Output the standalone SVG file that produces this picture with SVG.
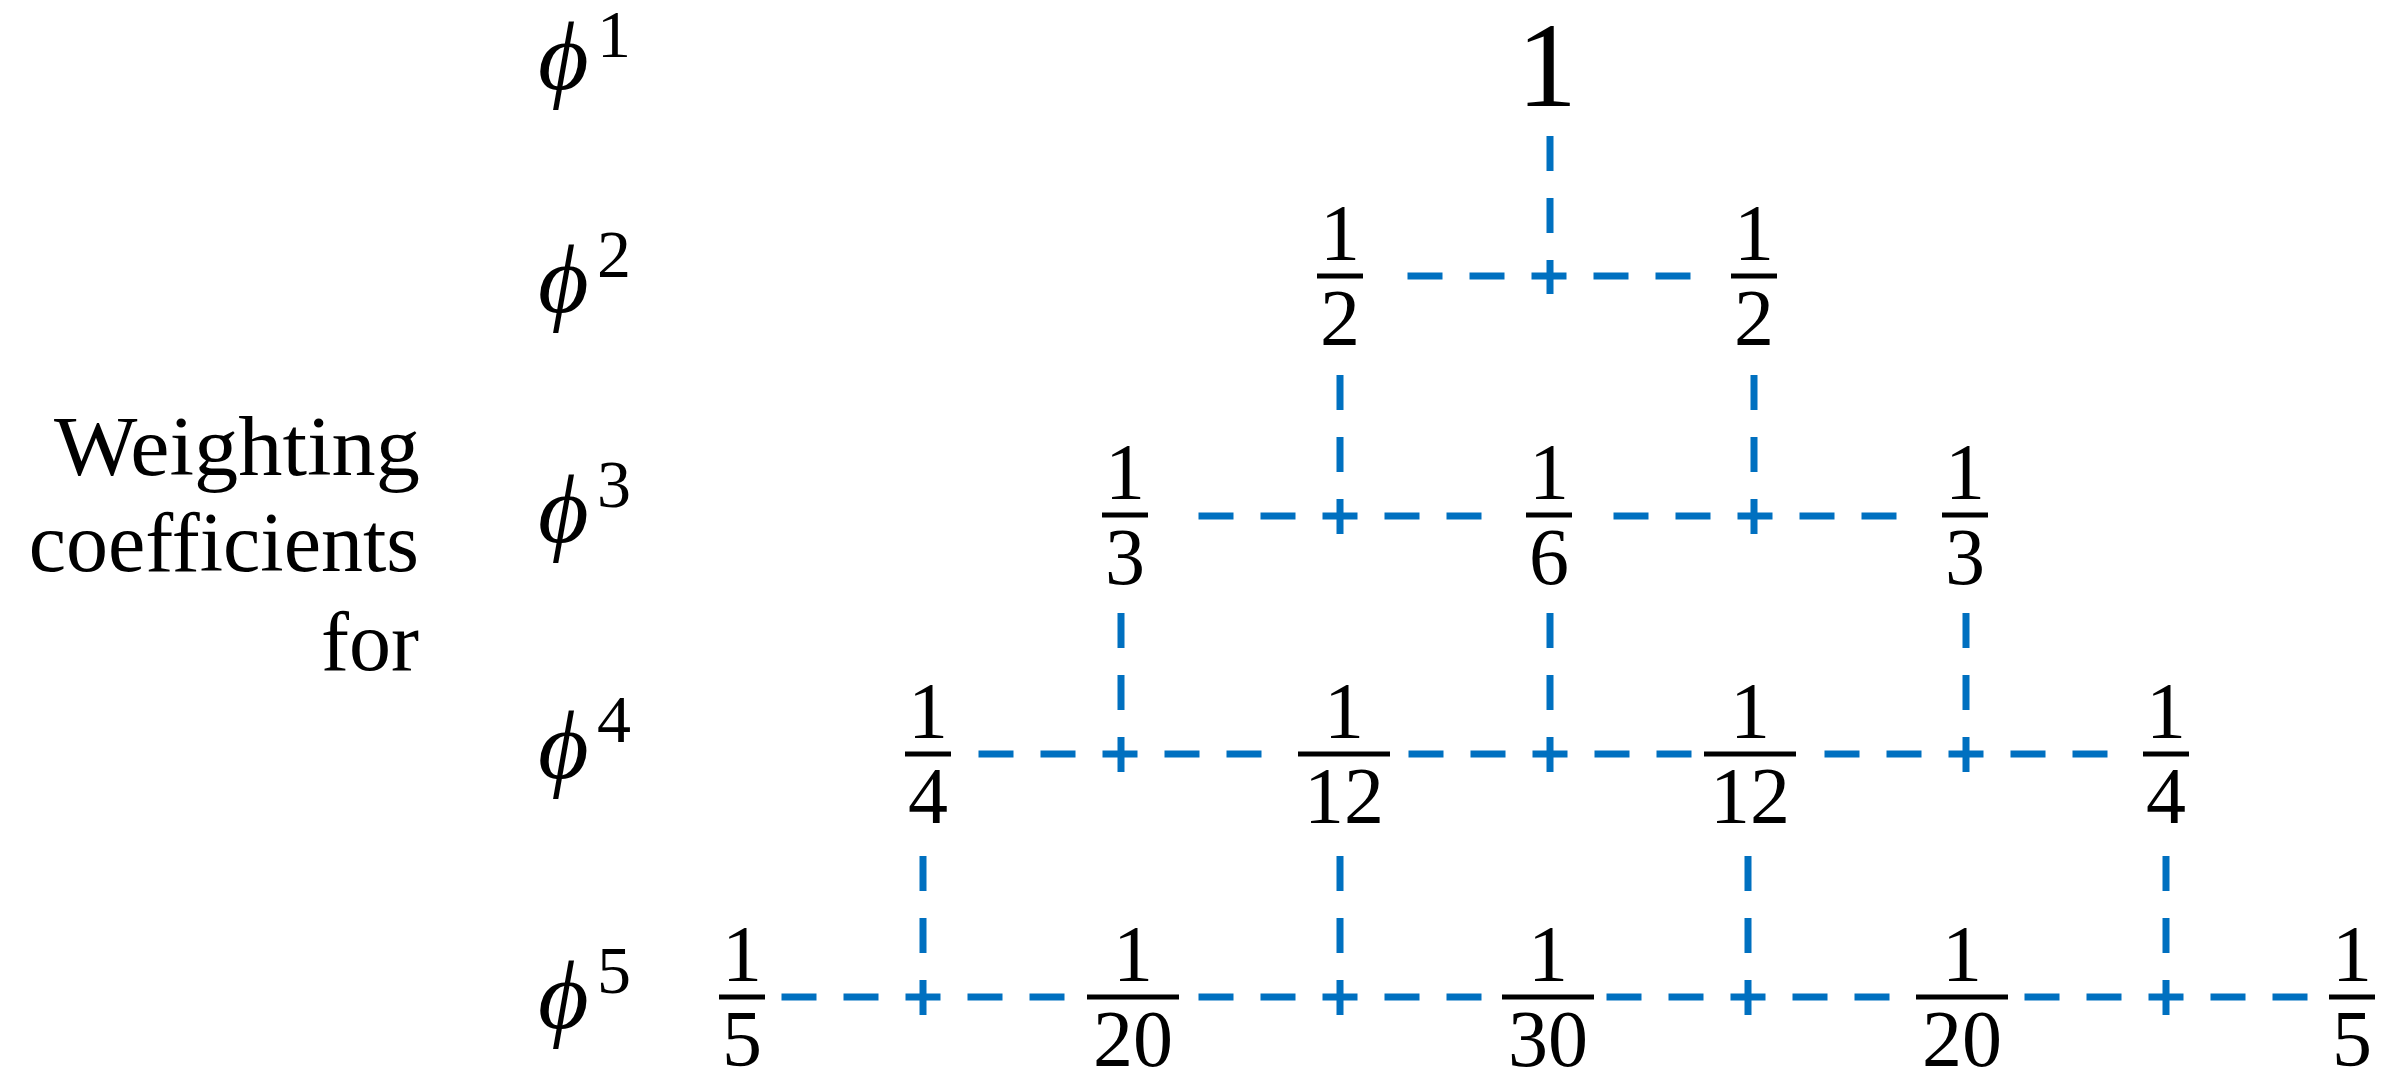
<svg xmlns="http://www.w3.org/2000/svg" width="2400" height="1085" viewBox="0 0 2400 1085">
<style>
.num{font-family:"Liberation Serif","DejaVu Serif",serif;font-size:80px;text-anchor:middle;fill:#000}
.big{font-family:"Liberation Serif","DejaVu Serif",serif;font-size:120px;text-anchor:middle;fill:#000}
.bar{stroke:#000;stroke-width:5}
.phi{font-family:"Liberation Serif","DejaVu Serif",serif;font-style:italic;font-size:98px;fill:#000}
.sup{font-family:"Liberation Serif","DejaVu Serif",serif;font-size:68px;fill:#000}
.lbl{font-family:"Liberation Serif","DejaVu Serif",serif;font-size:84px;text-anchor:end;fill:#000}
.dash{stroke:#0070C0;stroke-width:7;stroke-dasharray:35 27;fill:none}
</style>
<rect width="2400" height="1085" fill="#ffffff"/>
<g id="title">
<text class="lbl" x="420" y="475" textLength="366" lengthAdjust="spacingAndGlyphs">Weighting</text>
<text class="lbl" x="419" y="571">coefficients</text>
<text class="lbl" x="419" y="670">for</text>
</g>
<g id="row-labels">
<g id="phi1"><text class="phi" x="538" y="89">ϕ</text><text class="sup" x="597" y="57">1</text></g>
<g id="phi2"><text class="phi" x="538" y="312">ϕ</text><text class="sup" x="597" y="277">2</text></g>
<g id="phi3"><text class="phi" x="538" y="542">ϕ</text><text class="sup" x="597" y="507">3</text></g>
<g id="phi4"><text class="phi" x="538" y="778">ϕ</text><text class="sup" x="597" y="742">4</text></g>
<g id="phi5"><text class="phi" x="538" y="1028">ϕ</text><text class="sup" x="597" y="993">5</text></g>
</g>
<g id="connectors">
<line class="dash" x1="1550" y1="136" x2="1550" y2="294"/>
<line class="dash" x1="1407.5" y1="276" x2="1690.5" y2="276"/>
<line class="dash" x1="1340" y1="375" x2="1340" y2="534"/>
<line class="dash" x1="1754" y1="375" x2="1754" y2="534"/>
<line class="dash" x1="1198.5" y1="516" x2="1481.5" y2="516"/>
<line class="dash" x1="1613.5" y1="516" x2="1896.5" y2="516"/>
<line class="dash" x1="1121" y1="613" x2="1121" y2="772"/>
<line class="dash" x1="1550" y1="613" x2="1550" y2="772"/>
<line class="dash" x1="1966" y1="613" x2="1966" y2="772"/>
<line class="dash" x1="978.5" y1="754" x2="1261.5" y2="754"/>
<line class="dash" x1="1408.5" y1="754" x2="1691.5" y2="754"/>
<line class="dash" x1="1824.5" y1="754" x2="2107.5" y2="754"/>
<line class="dash" x1="923" y1="856" x2="923" y2="1015"/>
<line class="dash" x1="1340" y1="856" x2="1340" y2="1015"/>
<line class="dash" x1="1748" y1="856" x2="1748" y2="1015"/>
<line class="dash" x1="2166" y1="856" x2="2166" y2="1015"/>
<line class="dash" x1="781.5" y1="997" x2="1064.5" y2="997"/>
<line class="dash" x1="1198.5" y1="997" x2="1481.5" y2="997"/>
<line class="dash" x1="1606.5" y1="997" x2="1889.5" y2="997"/>
<line class="dash" x1="2024.5" y1="997" x2="2307.5" y2="997"/>
</g>
<g id="n1"><text class="big" x="1547" y="106">1</text></g>
<g id="n2a"><text class="num" x="1340" y="260">1</text><line class="bar" x1="1317" y1="276" x2="1363" y2="276"/><text class="num" x="1340" y="345">2</text></g>
<g id="n2b"><text class="num" x="1754" y="260">1</text><line class="bar" x1="1731" y1="276" x2="1777" y2="276"/><text class="num" x="1754" y="345">2</text></g>
<g id="n3a"><text class="num" x="1125" y="499">1</text><line class="bar" x1="1102" y1="515" x2="1148" y2="515"/><text class="num" x="1125" y="584">3</text></g>
<g id="n3b"><text class="num" x="1549" y="499">1</text><line class="bar" x1="1526" y1="515" x2="1572" y2="515"/><text class="num" x="1549" y="584">6</text></g>
<g id="n3c"><text class="num" x="1965" y="499">1</text><line class="bar" x1="1942" y1="515" x2="1988" y2="515"/><text class="num" x="1965" y="584">3</text></g>
<g id="n4a"><text class="num" x="928" y="738">1</text><line class="bar" x1="905" y1="754" x2="951" y2="754"/><text class="num" x="928" y="823">4</text></g>
<g id="n4b"><text class="num" x="1344" y="738">1</text><line class="bar" x1="1298" y1="754" x2="1390" y2="754"/><text class="num" x="1344" y="823">12</text></g>
<g id="n4c"><text class="num" x="1750" y="738">1</text><line class="bar" x1="1704" y1="754" x2="1796" y2="754"/><text class="num" x="1750" y="823">12</text></g>
<g id="n4d"><text class="num" x="2166" y="738">1</text><line class="bar" x1="2143" y1="754" x2="2189" y2="754"/><text class="num" x="2166" y="823">4</text></g>
<g id="n5a"><text class="num" x="742" y="981">1</text><line class="bar" x1="719" y1="997" x2="765" y2="997"/><text class="num" x="742" y="1066">5</text></g>
<g id="n5b"><text class="num" x="1133" y="981">1</text><line class="bar" x1="1087" y1="997" x2="1179" y2="997"/><text class="num" x="1133" y="1066">20</text></g>
<g id="n5c"><text class="num" x="1548" y="981">1</text><line class="bar" x1="1502" y1="997" x2="1594" y2="997"/><text class="num" x="1548" y="1066">30</text></g>
<g id="n5d"><text class="num" x="1962" y="981">1</text><line class="bar" x1="1916" y1="997" x2="2008" y2="997"/><text class="num" x="1962" y="1066">20</text></g>
<g id="n5e"><text class="num" x="2352" y="981">1</text><line class="bar" x1="2329" y1="997" x2="2375" y2="997"/><text class="num" x="2352" y="1066">5</text></g>
</svg>
